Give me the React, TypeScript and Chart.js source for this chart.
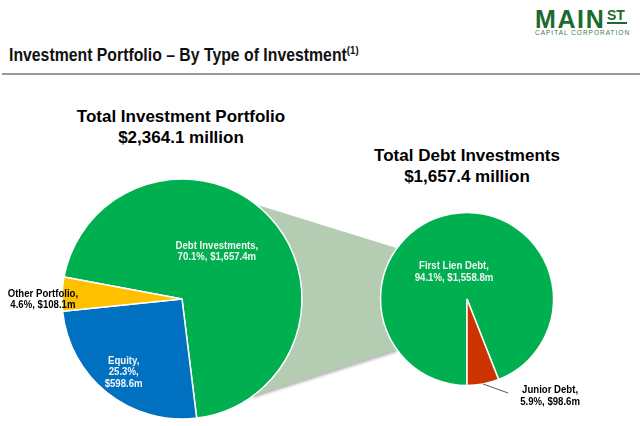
import React, { useEffect, useRef } from "react";
import { Chart, registerables } from "chart.js";

Chart.register(...registerables);

// ---------- data ----------
const portfolioLabels = ["Debt Investments", "Equity", "Other Portfolio"];
const portfolioValues = [1657.4, 598.6, 108.1];
const portfolioPercents = [70.1, 25.3, 4.6];
const portfolioTotal = 2364.1;

const debtLabels = ["First Lien Debt", "Junior Debt"];
const debtValues = [1558.8, 98.6];
const debtPercents = [94.1, 5.9];
const debtTotal = 1657.4;

// ---------- styles ----------
const portfolioColors = ["#00B050", "#0070C0", "#FFC000"];
const debtColors = ["#00B050", "#CC3300"];
const connectorColor = "#B3CCB2";

const LEFT_PIE = { cx: 182, cy: 299, r: 120, rotation: 280.6 };
const RIGHT_PIE = { cx: 467, cy: 299, r: 86.5, rotation: 180 };
const W = 640;
const H = 426;

const LABEL_FONT = 'bold 10.8px "Liberation Sans", Arial, sans-serif';
const LABEL_SCALE_X = 0.89;
const LINE_H = 11.5;

type LabelStyle = {
  frac: number;
  dx: number;
  dy: number;
  color: string;
  threeLines?: boolean;
  leader?: { dx: number; dy: number; tx: number; ty: number };
};

const portfolioLabelStyles: LabelStyle[] = [
  { frac: 0.49, dx: -8, dy: -7, color: "#F4F4F4" },
  { frac: 0.78, dx: 0, dy: 0, color: "#F4F4F4", threeLines: true },
  { frac: 1.16, dx: 0, dy: 6.5, color: "#000000" },
];
const debtLabelStyles: LabelStyle[] = [
  { frac: 0.31, dx: -8, dy: -0.5, color: "#F4F4F4" },
  { frac: 1, dx: 0, dy: 0, color: "#000000", leader: { dx: 25, dy: 9, tx: 42, ty: 3 } },
];

const money = (v: number) =>
  "$" + v.toLocaleString("en-US", { minimumFractionDigits: 1, maximumFractionDigits: 1 }) + "m";

function buildLines(label: string, pct: number, value: number, three?: boolean): string[] {
  if (three) return [label + ",", pct.toFixed(1) + "%,", money(value)];
  return [label + ",", pct.toFixed(1) + "%, " + money(value)];
}

function makeLabelPlugin(labels: string[], values: number[], pcts: number[], styles: LabelStyle[]) {
  return {
    id: "sliceLabels",
    afterDatasetsDraw(chart: any) {
      const ctx = chart.ctx as CanvasRenderingContext2D;
      const arcs = chart.getDatasetMeta(0).data;
      ctx.save();
      arcs.forEach((arc: any, i: number) => {
        const p = arc.getProps(["x", "y", "startAngle", "endAngle", "outerRadius"], true);
        const st = styles[i];
        const mid = (p.startAngle + p.endAngle) / 2;
        let cx = p.x + Math.cos(mid) * p.outerRadius * st.frac + st.dx;
        let cy = p.y + Math.sin(mid) * p.outerRadius * st.frac + st.dy;
        if (st.leader) {
          const ex = p.x + Math.cos(mid) * p.outerRadius;
          const ey = p.y + Math.sin(mid) * p.outerRadius;
          const lx = ex + st.leader.dx;
          const ly = ey + st.leader.dy;
          ctx.strokeStyle = "#595959";
          ctx.lineWidth = 1;
          ctx.beginPath();
          ctx.moveTo(ex, ey);
          ctx.lineTo(lx, ly);
          ctx.stroke();
          cx = lx + st.leader.tx;
          cy = ly + st.leader.ty;
        }
        const lines = buildLines(labels[i], pcts[i], values[i], st.threeLines);
        ctx.font = LABEL_FONT;
        ctx.fillStyle = st.color;
        ctx.textAlign = "center";
        ctx.textBaseline = "middle";
        lines.forEach((ln, k) => {
          ctx.save();
          ctx.translate(cx, cy + (k - (lines.length - 1) / 2) * LINE_H);
          ctx.scale(LABEL_SCALE_X, 1);
          ctx.fillText(ln, 0, 0);
          ctx.restore();
        });
      });
      ctx.restore();
    },
  };
}

const connectorPlugin = {
  id: "connector",
  beforeDatasetsDraw(chart: any) {
    const ctx = chart.ctx as CanvasRenderingContext2D;
    const arc = chart.getDatasetMeta(0).data[0];
    if (!arc) return;
    const p = arc.getProps(["x", "y", "outerRadius"], true);
    const d = Math.PI / 180;
    const a1 = -52 * d;
    const a2 = 54 * d;
    const b1 = 216 * d;
    const b2 = 144 * d;
    ctx.save();
    ctx.fillStyle = connectorColor;
    ctx.shadowColor = "rgba(0,0,0,0.3)";
    ctx.shadowBlur = 3;
    ctx.shadowOffsetY = 2;
    ctx.beginPath();
    ctx.moveTo(p.x + Math.cos(a1) * p.outerRadius, p.y + Math.sin(a1) * p.outerRadius);
    ctx.lineTo(RIGHT_PIE.cx + Math.cos(b1) * RIGHT_PIE.r, RIGHT_PIE.cy + Math.sin(b1) * RIGHT_PIE.r);
    ctx.lineTo(RIGHT_PIE.cx + Math.cos(b2) * RIGHT_PIE.r, RIGHT_PIE.cy + Math.sin(b2) * RIGHT_PIE.r);
    ctx.lineTo(p.x + Math.cos(a2) * p.outerRadius, p.y + Math.sin(a2) * p.outerRadius);
    ctx.closePath();
    ctx.fill();
    ctx.restore();
  },
};

function paddingFor(pie: { cx: number; cy: number; r: number }) {
  const half = Math.ceil(pie.r) + 6;
  return {
    left: pie.cx - half,
    right: W - (pie.cx + half),
    top: pie.cy - half,
    bottom: H - (pie.cy + half),
  };
}

function makeConfig(
  labels: string[],
  values: number[],
  colors: string[],
  pie: { cx: number; cy: number; r: number; rotation: number },
  plugins: any[]
): any {
  return {
    type: "pie",
    data: {
      labels,
      datasets: [
        {
          data: values,
          backgroundColor: colors,
          borderColor: "#FFFFFF",
          borderWidth: 1.5,
          rotation: pie.rotation,
          radius: pie.r,
        },
      ],
    },
    options: {
      responsive: false,
      animation: false,
      devicePixelRatio: 1,
      rotation: pie.rotation,
      layout: { padding: paddingFor(pie) },
      plugins: { legend: { display: false }, tooltip: { enabled: false } },
    },
    plugins,
  };
}

const abs: React.CSSProperties = { position: "absolute" };

export default function App() {
  const leftRef = useRef<HTMLCanvasElement>(null);
  const rightRef = useRef<HTMLCanvasElement>(null);

  useEffect(() => {
    const left = new Chart(
      leftRef.current!,
      makeConfig(portfolioLabels, portfolioValues, portfolioColors, LEFT_PIE, [
        connectorPlugin,
        makeLabelPlugin(portfolioLabels, portfolioValues, portfolioPercents, portfolioLabelStyles),
      ])
    );
    const right = new Chart(
      rightRef.current!,
      makeConfig(debtLabels, debtValues, debtColors, RIGHT_PIE, [
        makeLabelPlugin(debtLabels, debtValues, debtPercents, debtLabelStyles),
      ])
    );
    return () => {
      left.destroy();
      right.destroy();
    };
  }, []);

  const fmtTotal = (v: number) =>
    "$" + v.toLocaleString("en-US", { minimumFractionDigits: 1, maximumFractionDigits: 1 }) + " million";

  return (
    <div
      style={{
        position: "absolute",
        left: 0,
        top: 0,
        width: W,
        height: H,
        background: "#FFFFFF",
        overflow: "hidden",
        fontFamily: '"Liberation Sans", Arial, sans-serif',
      }}
    >
      {/* logo */}
      <div
        style={{
          ...abs,
          left: 535,
          top: 6.5,
          fontSize: 25,
          lineHeight: "25px",
          fontWeight: 700,
          color: "#1B6B2C",
          letterSpacing: "1.6px",
          whiteSpace: "nowrap",
        }}
      >
        MAIN
      </div>
      <div
        style={{
          ...abs,
          left: 607,
          top: 8,
          fontSize: 14,
          lineHeight: "14px",
          fontWeight: 700,
          color: "#1B6B2C",
          whiteSpace: "nowrap",
        }}
      >
        ST
      </div>
      <div style={{ ...abs, left: 607, top: 21.5, width: 20, height: 2, background: "#1B6B2C" }} />
      <div
        style={{
          ...abs,
          left: 535,
          top: 30,
          fontSize: 6.5,
          lineHeight: "6.5px",
          color: "#3D7D46",
          letterSpacing: "1px",
          whiteSpace: "nowrap",
        }}
      >
        CAPITAL CORPORATION
      </div>

      {/* title */}
      <div
        style={{
          ...abs,
          left: 9,
          top: 45.8,
          fontSize: 18,
          lineHeight: "18px",
          fontWeight: 700,
          color: "#111111",
          whiteSpace: "nowrap",
          transform: "scaleX(0.878)",
          transformOrigin: "0 0",
        }}
      >
        Investment Portfolio – By Type of Investment
        <span style={{ fontSize: 11, position: "relative", top: -7 }}>(1)</span>
      </div>
      <div style={{ ...abs, left: 2, top: 72.5, width: W - 2, height: 2, background: "#9A9A9A" }} />

      {/* headings */}
      <div
        style={{
          ...abs,
          left: LEFT_PIE.cx - 1 - 150,
          top: 107,
          width: 300,
          textAlign: "center",
          fontSize: 17,
          lineHeight: "20.5px",
          fontWeight: 700,
          color: "#000000",
        }}
      >
        <div>Total Investment Portfolio</div>
        <div>{fmtTotal(portfolioTotal)}</div>
      </div>
      <div
        style={{
          ...abs,
          left: RIGHT_PIE.cx - 150,
          top: 146,
          width: 300,
          textAlign: "center",
          fontSize: 17,
          lineHeight: "20.5px",
          fontWeight: 700,
          color: "#000000",
        }}
      >
        <div>Total Debt Investments</div>
        <div>{fmtTotal(debtTotal)}</div>
      </div>

      {/* charts */}
      <canvas ref={leftRef} width={W} height={H} style={{ ...abs, left: 0, top: 0, width: W, height: H }} />
      <canvas ref={rightRef} width={W} height={H} style={{ ...abs, left: 0, top: 0, width: W, height: H }} />
    </div>
  );
}
